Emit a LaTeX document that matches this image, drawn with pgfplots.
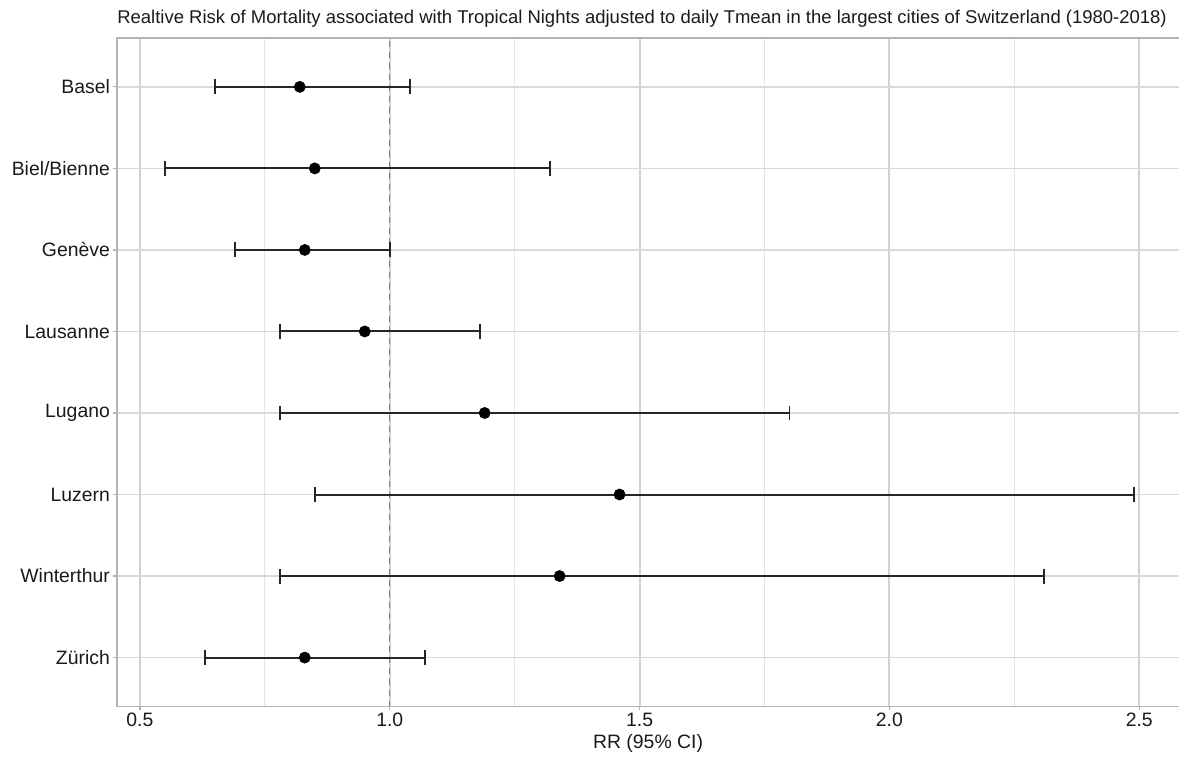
\documentclass[border=0pt]{standalone}
\usepackage{pgfplots}
\pgfplotsset{compat=1.18}
\usepackage{pgfplotstable}
\usepackage{fontspec}
\setmainfont{Liberation Sans}
\definecolor{axgray}{HTML}{B3B3B3}
\definecolor{majgrid}{HTML}{D2D2D2}
\definecolor{mingrid}{HTML}{E4E4E4}
\definecolor{hgrid}{HTML}{D9D9D9}
\definecolor{refgray}{HTML}{7F7F7F}
\definecolor{txt}{HTML}{1A1A1A}

\pgfplotstableread{
y x lo hi
8 0.82 0.65 1.04
7 0.85 0.55 1.32
6 0.83 0.69 1.00
5 0.95 0.78 1.18
4 1.19 0.78 1.80
3 1.46 0.85 2.49
2 1.34 0.78 2.31
1 0.83 0.63 1.07
}\rrdata

\begin{document}
\begin{tikzpicture}
\begin{axis}[
  name=ax,
  scale only axis,
  width=531.5pt, height=334.5pt,
  xmin=0.454, xmax=2.58,
  ymin=0.4, ymax=8.6,
  clip=false,
  axis line style={draw=none},
  xtick={0.5,1.0,1.5,2.0,2.5},
  xticklabels={0.5,1.0,1.5,2.0,2.5},
  minor xtick={0.75,1.25,1.75,2.25},
  ytick={1,2,3,4,5,6,7,8},
  yticklabels={Zürich,Winterthur,Luzern,Lugano,Lausanne,Genève,Biel/Bienne,Basel},
  xtick pos=bottom, ytick pos=left,
  tick align=outside,
  major tick length=2pt,
  minor tick length=0pt,
  every tick/.style={axgray, line width=0.6pt},
  xmajorgrids, xminorgrids, ymajorgrids,
  x grid style={majgrid, line width=1pt},
  minor x grid style={mingrid, line width=0.5pt},
  y grid style={hgrid, line width=0.8pt},
  tick label style={font=\fontsize{9.7}{11}\selectfont, text=txt},
  xticklabel style={anchor=base, yshift=-8pt},
  yticklabel style={anchor=east, xshift=2pt},
  /pgf/number format/assume math mode=true,
  xlabel={RR (95\% CI)},
  xlabel style={at={(axis description cs:0.5,0)}, anchor=base, yshift=-21pt, font=\fontsize{9.7}{11}\selectfont, text=txt},
  every axis title shift=0pt,
  title={Realtive Risk of Mortality associated with Tropical Nights adjusted to daily Tmean in the largest cities of Switzerland (1980-2018)},
  title style={at={(axis description cs:0,1)}, anchor=base west, inner sep=0pt, yshift=7pt, font=\fontsize{9.25}{11}\selectfont, text=txt},
]
\addplot[refgray, line width=0.7pt, dash pattern=on 3pt off 2.5pt, forget plot] coordinates {(1,0.4) (1,8.6)};
\draw[axgray, line width=0.75pt] (rel axis cs:1,1) -- (rel axis cs:0,1) -- (rel axis cs:0,0) -- (rel axis cs:1,0);
\addplot[only marks, mark=*, mark size=2.75pt, black,
  error bars/.cd, x dir=both, x explicit, error mark=|,
  error bar style={line width=1pt, black!85},
  error mark options={mark size=3.75pt, line width=0.9pt, black!85}]
  table[x=x, y=y, x error plus expr=\thisrow{hi}-\thisrow{x}, x error minus expr=\thisrow{x}-\thisrow{lo}]{\rrdata};
\end{axis}
\path[use as bounding box] ([xshift=-58.5pt, yshift=-24.5pt]ax.south west) rectangle ([yshift=19pt]ax.north east);
\end{tikzpicture}
\end{document}
